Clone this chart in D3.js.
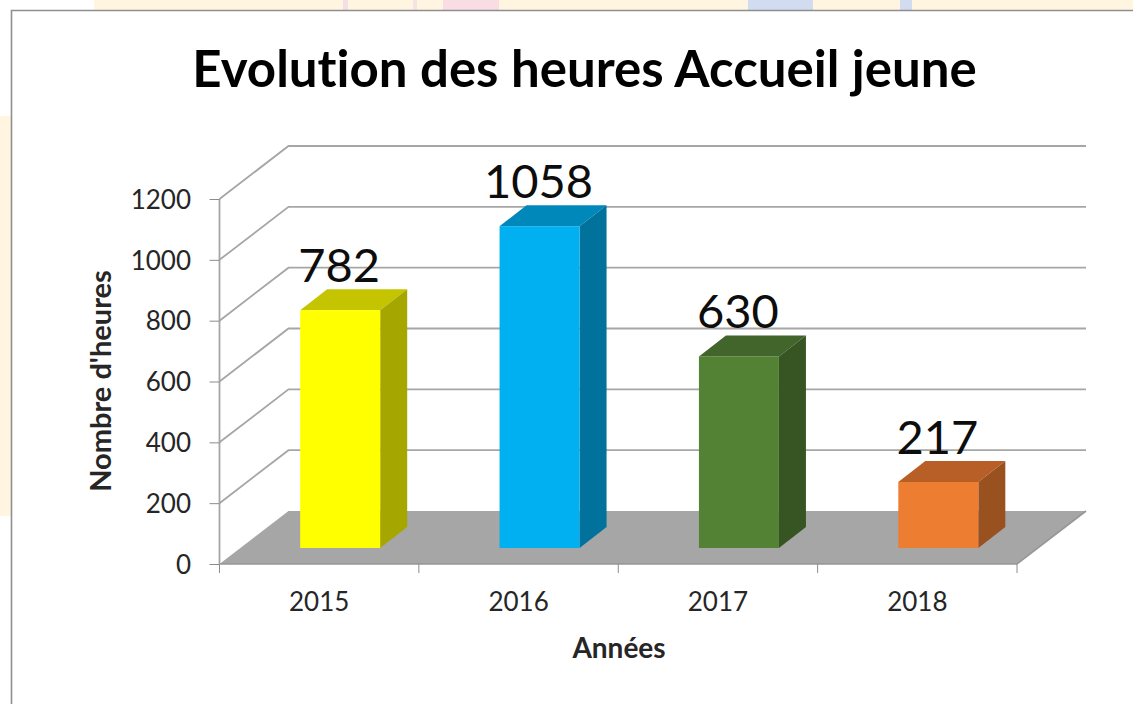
<!DOCTYPE html>
<html><head><meta charset="utf-8">
<script src="https://cdn.jsdelivr.net/npm/d3@7/dist/d3.min.js"></script>
<style>html,body{margin:0;padding:0;background:#fff}svg{display:block}text{font-family:Lato,"Open Sans",sans-serif;font-variant-ligatures:none}</style>
</head><body><svg id="c" width="1133" height="704"></svg>
<script>
const categories=["2015","2016","2017","2018"];
const values=[782,1058,630,217];
const frontColors=["#ffff00","#00b0f0","#548235","#ed7d31"];
const topColors=["#c4c400","#0088ba","#41652a","#b75f26"];
const sideColors=["#a6a600","#00729c","#365522","#9a5120"];
const yTicks=[0,200,400,600,800,1000,1200];
const svg=d3.select("#c");
const x=d3.scaleBand().domain(categories).range([219.5,1017]);
const y=d3.scaleLinear().domain([0,1200]).range([564,199]);
const DX=69,DY=-53,BW=80,BDX=27,BDY=-21,OX=21,OY=-16;
const grid="#a6a6a6",tick="#8c8c8c",txt="#262626";
const line=d3.line();

// page background peeking out around the chart frame
const bg=svg.append("g");
[[94,0,1039,10,"#fff5e0"],[0,116,11,400,"#fff5e0"],[343,0,5,10,"#f5dfe6"],[413,0,4,10,"#f7e3e3"],[443,0,56,10,"#f9dde4"],[748,0,65,10,"#d2dcf0"],[900,0,12,10,"#d2dcf0"]]
 .forEach(r=>bg.append("rect").attr("x",r[0]).attr("y",r[1]).attr("width",r[2]).attr("height",r[3]).attr("fill",r[4]));

// frame
svg.append("path").attr("d","M11.5,704V10.5H1133").attr("fill","none").attr("stroke","#8f8f8f").attr("stroke-width",1.6);

const [x0,x1]=x.range();
// floor
svg.append("path").attr("d",line([[x0,y(0)],[x1,y(0)],[x1+DX,y(0)+DY],[x0+DX,y(0)+DY]])+"Z")
 .attr("fill","#a6a6a6");
svg.append("path").attr("d",line([[x0,y(0)],[x1,y(0)],[x1+DX,y(0)+DY]])).attr("fill","none").attr("stroke","#979797").attr("stroke-width",1.6);

// gridlines on side and back walls
svg.selectAll("path.grid").data(yTicks.slice(1)).join("path").attr("class","grid")
 .attr("d",t=>line([[x0,y(t)],[x0+DX,y(t)+DY],[x1+DX,y(t)+DY]]))
 .attr("fill","none").attr("stroke",grid).attr("stroke-width",1.8);
svg.append("line").attr("x1",x0).attr("x2",x0).attr("y1",y(0)).attr("y2",y(1200)).attr("stroke",grid).attr("stroke-width",1.8);

// axes
const ay=d3.axisLeft(y).tickValues(yTicks).tickFormat(d3.format("d")).tickSize(10).tickPadding(18.5).tickSizeOuter(0);
const gy=svg.append("g").attr("transform",`translate(${x0},0)`).call(ay);
gy.select(".domain").remove();
gy.selectAll("line").attr("stroke",tick).attr("stroke-width",1);
gy.selectAll("text").attr("font-size",26).attr("fill",txt).attr("transform","translate(0,1)");

const xEdges=[x0,...categories.map(c=>x(c)+x.bandwidth())];
svg.selectAll("line.xt").data(xEdges).join("line").attr("class","xt")
 .attr("x1",d=>d).attr("x2",d=>d).attr("y1",y(0)).attr("y2",y(0)+9).attr("stroke",tick).attr("stroke-width",1);
const ax=d3.axisBottom(x).tickSize(0).tickPadding(29);
const gx=svg.append("g").attr("transform",`translate(0,${y(0)})`).call(ax);
gx.select(".domain").remove();
gx.selectAll("text").attr("font-size",26).attr("fill",txt);

// bars
const bars=svg.selectAll("g.bar").data(categories.map((c,i)=>({c,v:values[i],i}))).join("g").attr("class","bar");
const bx=d=>x(d.c)+(x.bandwidth()-BW)/2+OX;
const by0=y(0)+OY;
const btop=d=>by0-(y(0)-y(d.v));
bars.append("path").attr("fill",d=>topColors[d.i]).attr("d",d=>line([[bx(d),btop(d)],[bx(d)+BW,btop(d)],[bx(d)+BW+BDX,btop(d)+BDY],[bx(d)+BDX,btop(d)+BDY]])+"Z");
bars.append("path").attr("fill",d=>sideColors[d.i]).attr("d",d=>line([[bx(d)+BW,btop(d)],[bx(d)+BW+BDX,btop(d)+BDY],[bx(d)+BW+BDX,by0+BDY],[bx(d)+BW,by0]])+"Z");
bars.append("rect").attr("fill",d=>frontColors[d.i]).attr("x",bx).attr("y",btop).attr("width",BW).attr("height",d=>by0-btop(d));
bars.append("text").text(d=>d.v).attr("x",d=>bx(d)+BW/2-1).attr("y",d=>btop(d)-28)
 .attr("text-anchor","middle").attr("font-size",47).attr("fill","#0d0d0d");

// titles
svg.append("text").text("Evolution des heures Accueil jeune").attr("x",584.5).attr("y",87).attr("text-anchor","middle")
 .attr("font-size",51).attr("font-weight",700).attr("fill","#000");
svg.append("text").text("Années").attr("x",619).attr("y",658).attr("text-anchor","middle")
 .attr("font-size",28).attr("font-weight",700).attr("fill","#262626");
svg.append("text").text("Nombre d'heures").attr("transform","translate(111,381) rotate(-90)").attr("text-anchor","middle")
 .attr("font-size",29).attr("font-weight",700).attr("fill","#262626");
</script></body></html>
